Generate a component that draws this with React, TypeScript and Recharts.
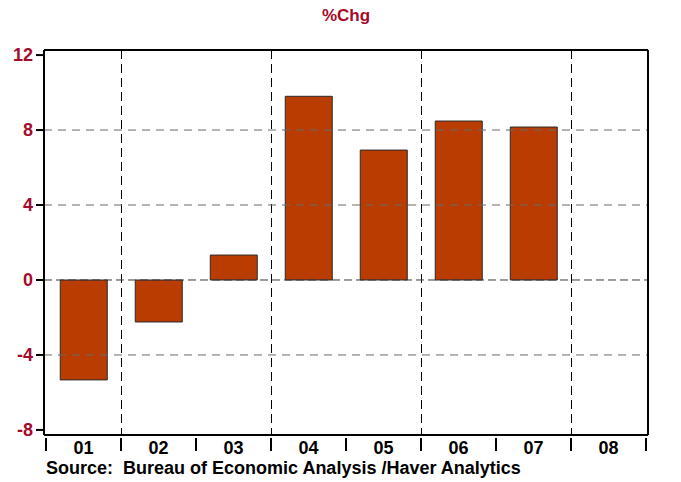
import React from 'react'
import { BarChart, Bar, XAxis, YAxis, CartesianGrid, ReferenceLine } from 'recharts'

const categories = ['01', '02', '03', '04', '05', '06', '07', '08']
const pctChg = [-5.33, -2.24, 1.33, 9.8, 6.93, 8.48, 8.16, null]
const yTicks = [-8, -4, 0, 4, 8, 12]
const gridValues = [-4, 4, 8]
const Y_DOMAIN = [-8.27, 12.27]

const data = categories.map((c, i) => ({ cat: c, value: pctChg[i] }))

const W = 681
const H = 482
const LEFT = 44
const RIGHT_W = 33
const TOP = 50
const BOTTOM_H = 47
const PAD = 2
const PLOT_W = W - LEFT - RIGHT_W
const BAND = (PLOT_W - 2 * PAD) / categories.length
const AXIS_Y = H - BOTTOM_H

const CRIMSON = '#A50A2D'
const FONT = '"Liberation Sans", Arial, sans-serif'

// category ticks: boundary tick marks below the axis plus label in the middle
function CatTick(props: any) {
  const { x, payload, index } = props
  const last = index === categories.length - 1
  return (
    <g>
      <line x1={x - BAND / 2} x2={x - BAND / 2} y1={AXIS_Y + 3} y2={AXIS_Y + 16} stroke="#000" strokeWidth={2} />
      {last && <line x1={x + BAND / 2} x2={x + BAND / 2} y1={AXIS_Y + 3} y2={AXIS_Y + 16} stroke="#000" strokeWidth={2} />}
      <text x={x} y={AXIS_Y + 19} textAnchor="middle" fontFamily={FONT} fontWeight="bold" fontSize={18} fill="#000">
        {payload.value}
      </text>
    </g>
  )
}

export default function App() {
  const yTick = { fill: CRIMSON, fontWeight: 'bold', fontSize: 18, fontFamily: FONT }
  return (
    <div style={{ position: 'absolute', left: 0, top: 0, width: W, height: H, background: '#fff' }}>
      <div
        style={{
          position: 'absolute',
          top: 6,
          left: LEFT,
          width: PLOT_W,
          textAlign: 'center',
          fontFamily: FONT,
          fontWeight: 'bold',
          fontSize: 17,
          color: CRIMSON,
        }}
      >
        %Chg
      </div>
      <BarChart width={W} height={H} data={data} margin={{ top: TOP, right: 0, bottom: 0, left: 0 }} barCategoryGap="19%">
        <CartesianGrid
          horizontal={false}
          stroke="#000"
          strokeDasharray="9 5"
          verticalCoordinatesGenerator={({ offset }: any) =>
            [1, 3, 5, 7].map((i) => offset.left + PAD + i * BAND + 0.5)
          }
        />
        {gridValues.map((v) => (
          <ReferenceLine key={v} y={v} stroke="#6a6a6a" strokeDasharray="8 6" />
        ))}
        <ReferenceLine y={0} stroke="#3a3a3a" strokeDasharray="8 4" />
        <ReferenceLine y={Y_DOMAIN[1]} stroke="#000" strokeWidth={2} />
        <XAxis
          dataKey="cat"
          height={BOTTOM_H}
          padding={{ left: PAD, right: PAD }}
          axisLine={{ stroke: '#000', strokeWidth: 2 }}
          tickLine={false}
          interval={0}
          tick={<CatTick />}
        />
        <YAxis
          width={LEFT}
          domain={Y_DOMAIN}
          ticks={yTicks}
          interval={0}
          tick={yTick}
          tickSize={8}
          tickMargin={3}
          tickLine={{ stroke: '#000', strokeWidth: 2 }}
          axisLine={{ stroke: '#000', strokeWidth: 2 }}
        />
        <YAxis
          yAxisId="r"
          orientation="right"
          width={RIGHT_W}
          domain={Y_DOMAIN}
          ticks={yTicks}
          interval={0}
          tick={yTick}
          tickSize={8}
          tickMargin={3}
          tickLine={{ stroke: '#000', strokeWidth: 2 }}
          axisLine={{ stroke: '#000', strokeWidth: 2 }}
        />
        <Bar dataKey="value" fill="#B93C00" stroke="#2a2a2a" strokeWidth={1} isAnimationActive={false} />
      </BarChart>
      <div
        style={{
          position: 'absolute',
          top: 459,
          left: 46,
          fontFamily: FONT,
          fontWeight: 'bold',
          fontSize: 18,
          lineHeight: '18px',
          color: '#000',
          whiteSpace: 'pre',
        }}
      >
        {'Source:  Bureau of Economic Analysis /Haver Analytics'}
      </div>
    </div>
  )
}
